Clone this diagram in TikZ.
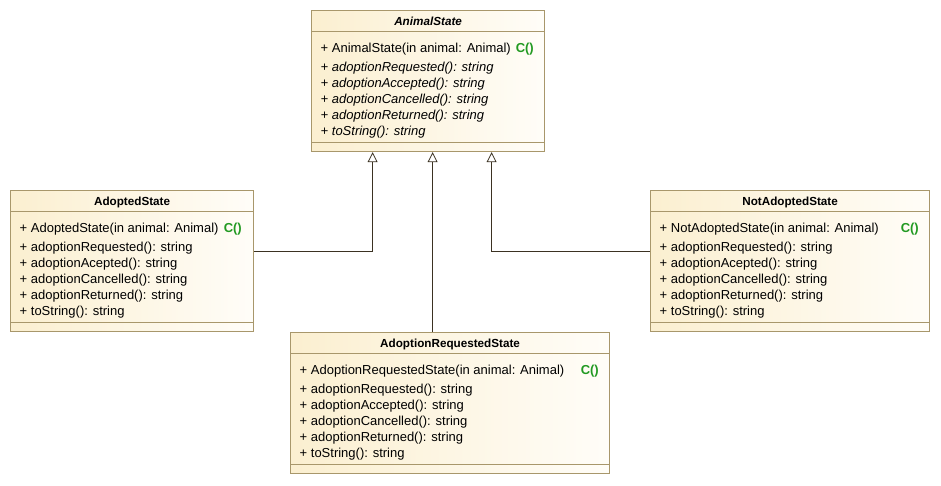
\documentclass[tikz,border=0pt]{standalone}
\usepackage{fontspec}
\setmainfont{Liberation Sans}
\usetikzlibrary{arrows.meta,calc}
\definecolor{umlborder}{HTML}{A8976B}
\definecolor{umlfillA}{HTML}{FBEFD0}
\definecolor{umlfillB}{HTML}{FFFDF8}
\definecolor{umlline}{HTML}{3B3222}
\definecolor{ctorgreen}{HTML}{229A22}
\tikzset{
 classbox/.style={draw=umlborder, line width=1.2pt, left color=umlfillA, right color=umlfillB, rectangle, inner sep=0pt, anchor=north west, minimum height=141pt},
 sepline/.style={draw=umlborder, line width=1pt},
 member/.style={anchor=base west, inner sep=0pt, font=\fontsize{13}{16}\selectfont, text=black},
 abstractmember/.style={member, font=\fontsize{13}{16}\selectfont\itshape},
 classtitle/.style={anchor=base, inner sep=0pt, font=\fontsize{11.7}{14}\selectfont\bfseries},
 ctor/.style={anchor=base east, inner sep=0pt, font=\fontsize{13}{16}\selectfont\bfseries, text=ctorgreen},
 inh/.style={draw=umlline, line width=0.8pt, -{Triangle[open, length=10pt, width=10pt, fill=white]}}
}
\newcommand{\classframe}[5]{%
 \node[classbox, minimum width=#4pt] (#1) at (#2,#3) {};
 \draw[sepline] ($(#1.north west)+(0.6,21)$) -- ($(#1.north east)+(-0.6,21)$);
 \draw[sepline] ($(#1.north west)+(0.6,132)$) -- ($(#1.north east)+(-0.6,132)$);
 \node[classtitle] (#1-title) at ($(#1.north)+(0,15)$) {#5};
}
\begin{document}
\begin{tikzpicture}[x=1pt,y=-1pt]
\useasboundingbox[fill=white] (0,0) rectangle (941,485);

% AnimalState
\classframe{animal}{311}{10}{233}{\itshape AnimalState}
\node[member] (animal-ctor) at (320.5,52) {+ AnimalState(in animal: Animal)};
\node[ctor] (animal-c) at (534,52) {C()};
\foreach \t [count=\i from 0] in {adoptionRequested(): string, adoptionAccepted(): string, adoptionCancelled(): string, adoptionReturned(): string, toString(): string}
  \node[abstractmember] (animal-op\i) at (320.5,{71+16*\i}) {+ \t};

% AdoptedState
\classframe{adopted}{10}{190}{243}{AdoptedState}
\node[member] (adopted-ctor) at (19.5,232) {+ AdoptedState(in animal: Animal)};
\node[ctor] (adopted-c) at (242,232) {C()};
\foreach \t [count=\i from 0] in {adoptionRequested(): string, adoptionAcepted(): string, adoptionCancelled(): string, adoptionReturned(): string, toString(): string}
  \node[member] (adopted-op\i) at (19.5,{251+16*\i}) {+ \t};

% NotAdoptedState
\classframe{notadopted}{650}{190}{279}{NotAdoptedState}
\node[member] (notadopted-ctor) at (659.5,232) {+ NotAdoptedState(in animal: Animal)};
\node[ctor] (notadopted-c) at (919,232) {C()};
\foreach \t [count=\i from 0] in {adoptionRequested(): string, adoptionAcepted(): string, adoptionCancelled(): string, adoptionReturned(): string, toString(): string}
  \node[member] (notadopted-op\i) at (659.5,{251+16*\i}) {+ \t};

% AdoptionRequestedState
\classframe{adoptreq}{290}{332}{319}{AdoptionRequestedState}
\node[member] (adoptreq-ctor) at (299.5,374) {+ AdoptionRequestedState(in animal: Animal)};
\node[ctor] (adoptreq-c) at (599,374) {C()};
\foreach \t [count=\i from 0] in {adoptionRequested(): string, adoptionAccepted(): string, adoptionCancelled(): string, adoptionReturned(): string, toString(): string}
  \node[member] (adoptreq-op\i) at (299.5,{393+16*\i}) {+ \t};

% inheritance connectors
\coordinate (tipA) at ($(animal.south west)+(61.6,0)$);
\coordinate (tipB) at ($(animal.south west)+(121.6,0)$);
\coordinate (tipC) at ($(animal.south west)+(180.6,0)$);
\coordinate (fromA) at ($(adopted.north east)+(0,61)$);
\coordinate (fromC) at ($(notadopted.north west)+(0,61)$);
\draw[inh] (fromA) -| (tipA);
\draw[inh] (adoptreq.north -| tipB) -- (tipB);
\draw[inh] (fromC) -| (tipC);
\end{tikzpicture}
\end{document}
